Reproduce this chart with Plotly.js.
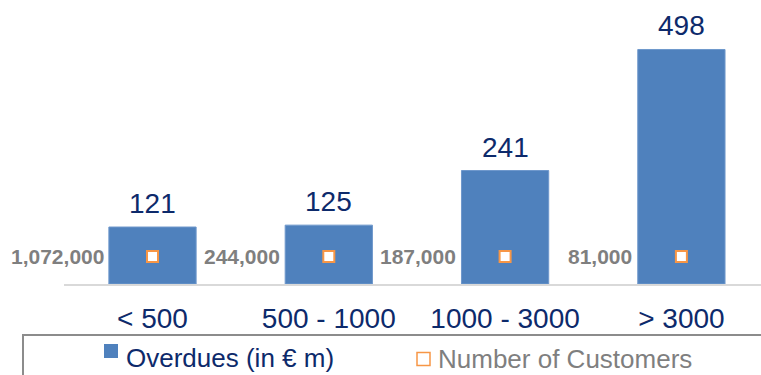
<!DOCTYPE html>
<html>
<head>
<meta charset="utf-8">
<script src="https://cdn.plot.ly/plotly-3.0.1.min.js"></script>
<style>
  html, body { margin: 0; padding: 0; background: #ffffff; }
  #chart { width: 761px; height: 375px; }
</style>
</head>
<body>
<div id="chart"></div>
<script>
// Overdue buckets (days past due)
const categories = ['< 500', '500 - 1000', '1000 - 3000', '> 3000'];
// Overdue amounts, in € million
const overdues = [121, 125, 241, 498];
// Number of customers in each bucket
const customers = [1072000, 244000, 187000, 81000];

const FONT = '"Liberation Sans", Arial, Helvetica, sans-serif';
const NAVY = '#0d2a6b';
const GREY = '#7f7f7f';
const BLUE = '#4f81bd';
const ORANGE = '#f79646';

const W = 761, H = 375;
const M = { l: 64, r: 0, t: 0, b: 91 };
const plotW = W - M.l - M.r;
const plotH = H - M.t - M.b;

// pixel -> paper helpers for the legend box drawn under the plot
const px = p => (p - M.l) / plotW;
const py = p => (M.t + plotH - p) / plotH;

// customers markers sit at a fixed level inside each bar
const MARKER_LEVEL = 0.097;

const fmt = n => n.toLocaleString('en-US');

const traces = [
  {
    type: 'bar',
    name: 'Overdues (in € m)',
    x: categories,
    y: overdues,
    width: 0.495,
    marker: { color: BLUE, line: { color: '#6f98cc', width: 1 } },
    hoverinfo: 'skip',
    showlegend: false
  },
  {
    type: 'scatter',
    mode: 'markers',
    name: 'Number of Customers',
    x: categories,
    y: categories.map(() => MARKER_LEVEL),
    yaxis: 'y2',
    customdata: customers,
    marker: { symbol: 'square', size: 11, color: '#ffffff', line: { color: ORANGE, width: 2 } },
    hoverinfo: 'skip',
    showlegend: false
  }
];

const annotations = [];
// value labels above the bars
categories.forEach((c, i) => {
  annotations.push({
    x: c, y: overdues[i], xref: 'x', yref: 'y',
    text: String(overdues[i]),
    showarrow: false, xanchor: 'center', yanchor: 'bottom', yshift: 6,
    font: { family: FONT, size: 28, color: NAVY }
  });
  // customer counts, just left of each bar
  annotations.push({
    x: c, y: MARKER_LEVEL, xref: 'x', yref: 'y2',
    text: '<b>' + fmt(customers[i]) + '</b>',
    showarrow: false, xanchor: 'right', yanchor: 'middle', xshift: -47,
    font: { family: FONT, size: 21, color: GREY }
  });
});

// legend texts
annotations.push({
  x: px(124), y: py(358), xref: 'paper', yref: 'paper',
  text: 'Overdues (in € m)', showarrow: false, xanchor: 'left', yanchor: 'middle',
  font: { family: FONT, size: 26, color: NAVY }
});
annotations.push({
  x: px(436), y: py(359), xref: 'paper', yref: 'paper',
  text: 'Number of Customers', showarrow: false, xanchor: 'left', yanchor: 'middle',
  font: { family: FONT, size: 26, color: GREY }
});

const shapes = [
  // legend frame
  { type: 'rect', xref: 'paper', yref: 'paper',
    x0: px(23), x1: px(800), y0: py(335), y1: py(420),
    line: { color: '#8c8c8c', width: 2 }, fillcolor: 'rgba(0,0,0,0)' },
  // legend swatches
  { type: 'rect', xref: 'paper', yref: 'paper',
    x0: px(104), x1: px(118), y0: py(358), y1: py(344),
    line: { width: 0 }, fillcolor: BLUE },
  { type: 'rect', xref: 'paper', yref: 'paper',
    x0: px(417), x1: px(430), y0: py(365.5), y1: py(352.5),
    line: { color: ORANGE, width: 1.5 }, fillcolor: '#ffffff' }
];

const layout = {
  width: W, height: H,
  margin: M,
  paper_bgcolor: '#ffffff',
  plot_bgcolor: '#ffffff',
  showlegend: false,
  bargap: 0.5,
  xaxis: {
    type: 'category',
    range: [(M.l - 152.5) / 176.3, (W - 152.5) / 176.3],
    showline: true, linecolor: '#d9d9d9', linewidth: 2,
    showgrid: false, zeroline: false, ticks: '',
    ticklabelstandoff: 8,
    tickfont: { family: FONT, size: 28, color: NAVY },
    fixedrange: true
  },
  yaxis: {
    range: [0, plotH / 0.4709],
    visible: false, showgrid: false, zeroline: false, fixedrange: true
  },
  yaxis2: {
    range: [0, 1], overlaying: 'y', visible: false,
    showgrid: false, zeroline: false, fixedrange: true
  },
  annotations: annotations,
  shapes: shapes
};

Plotly.newPlot('chart', traces, layout, { displayModeBar: false, staticPlot: true });
</script>
</body>
</html>
